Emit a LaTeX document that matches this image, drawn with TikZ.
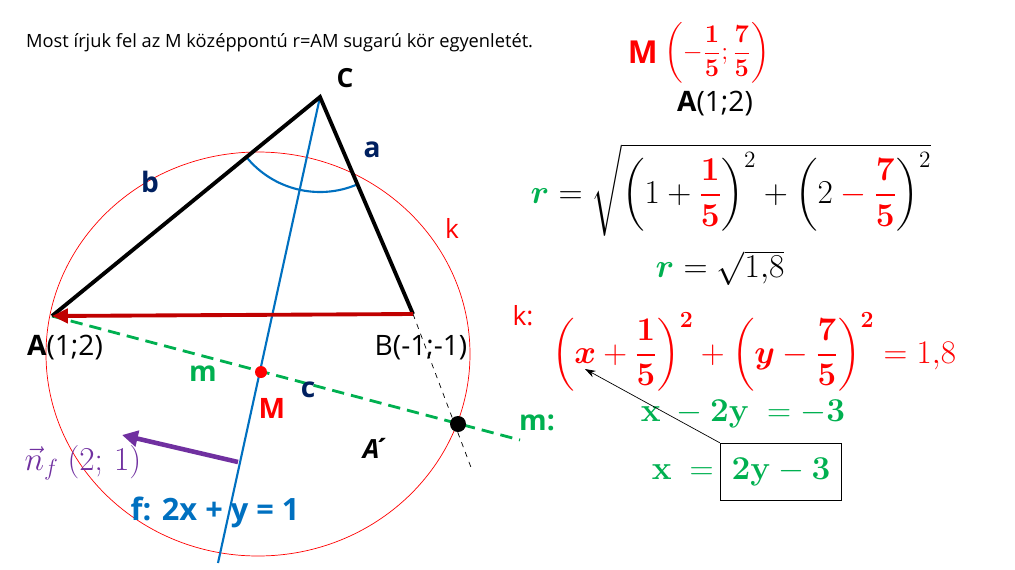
\RequirePackage{fix-cm}
\documentclass[tikz,border=0pt]{standalone}
\usepackage[no-math]{fontspec}
\setmainfont{Open Sans}
\usepackage{amsmath}
\usetikzlibrary{arrows.meta}
\definecolor{kred}{HTML}{FF0000}
\definecolor{arrred}{HTML}{C00000}
\definecolor{fblue}{HTML}{0070C0}
\definecolor{mgreen}{HTML}{00B050}
\definecolor{navy}{HTML}{002060}
\definecolor{nviolet}{HTML}{7030A0}

\begin{document}
\begin{tikzpicture}[x=0.02cm, y=0.02cm,
    sidelabel/.style={font=\fontsize{16}{18}\selectfont\bfseries, text=navy},
    ptlabel/.style={font=\fontsize{16}{19}\selectfont},
    bigmath/.style={font=\fontsize{19}{23}\selectfont}]
    \useasboundingbox (0,0) rectangle (1015,-569);

    % points of the triangle
    \coordinate (A) at (52,-316);
    \coordinate (B) at (413,-314);
    \coordinate (C) at (320,-97);
    \coordinate (M) at (261,-372);
    \coordinate (Ap) at (458,-424);
    \coordinate (fend) at (218,-563);
    \coordinate (mend) at (520,-440);
    \coordinate (Bend) at (472,-470);

    \node[anchor=west, font=\fontsize{10.4}{12}\selectfont] (title) at (20,-43)
        {Most írjuk fel az M középpontú r=AM sugarú kör egyenletét.};

    % circle k
    \draw[kred, thin] (258,-354) ellipse (212 and 202);

    % lines f and m
    \draw[fblue, line width=1.2pt] (C) -- (fend);
    \draw[fblue, line width=1.2pt] (C) ++(219:95) arc (219:293:95);
    \draw[mgreen, line width=1.6pt, dash pattern=on 7pt off 4pt] (A) -- (mend);
    \draw[black, dashed] (B) -- (Bend);

    % triangle
    \draw[black, line width=2.2pt] (A) -- (C) -- (B);
    \draw[arrred, line width=2.2pt, -{Triangle[length=9pt, width=8pt]}] (B) -- (A);

    \fill[kred] (M) circle (6);
    \fill[black] (Ap) circle (8);
    \draw[nviolet, line width=2.6pt, -{Triangle[length=9pt, width=9pt]}] (238,-462) -- (122,-435);

    % labels
    \node[font=\fontsize{15}{18}\selectfont\bfseries] (lC) at (345,-78) {C};
    \node[sidelabel] (la) at (372,-150) {a};
    \node[sidelabel] (lb) at (150,-182) {b};
    \node[sidelabel] (lc) at (308,-390) {c};
    \node[font=\fontsize{15}{18}\selectfont, text=kred] (lk) at (452,-228) {k};
    \node[ptlabel] (lA) at (65,-348) {\textbf{A}(1;2)};
    \node[ptlabel] (lB) at (421,-348) {B(-1;-1)};
    \node[sidelabel, text=mgreen] (lm) at (203,-374) {m};
    \node[sidelabel, text=kred] (lM) at (272,-408) {M};
    \node[font=\fontsize{15}{18}\selectfont\bfseries\itshape] (lAp) at (375,-448) {A\kern-4pt´};
    \node[sidelabel, text=mgreen] (lm2) at (537,-423) {m:};
    \node[font=\fontsize{19}{22}\selectfont, text=nviolet] (ln) at (83,-463) {$\vec{n}_f\ (2;\,1)$};
    \node[font=\fontsize{17.5}{20}\selectfont\bfseries, text=fblue] (lf) at (215,-512) {f: 2x + y = 1};

    % formulas on the right
    \node[font=\fontsize{18}{22}\selectfont\bfseries, text=kred, anchor=east] (Mname) at (664,-52) {M};
    \node[font=\fontsize{14.5}{17}\selectfont, text=kred, anchor=west, inner sep=0pt] (Meq) at (664,-53)
        {$\left(-\dfrac{\mathbf{1}}{\mathbf{5}};\dfrac{\mathbf{7}}{\mathbf{5}}\right)$};
    \node[ptlabel] (Aeq) at (715,-104) {\textbf{A}(1;2)};
    \node[bigmath] (req) at (731,-190)
        {$\boldsymbol{\color{mgreen}r} = \sqrt{\left(1+{\color{kred}\dfrac{\mathbf{1}}{\mathbf{5}}}\right)^{2}+\left(2\mathbin{\color{kred}-}{\color{kred}\dfrac{\mathbf{7}}{\mathbf{5}}}\right)^{2}}$};
    \node[bigmath] (r2) at (720,-268) {$\boldsymbol{\color{mgreen}r} = \sqrt{1{,}8}$};
    \node[font=\fontsize{15}{18}\selectfont, text=kred] (lk2) at (523,-316) {k:};
    \node[font=\fontsize{18.8}{22}\selectfont, text=kred] (keq) at (754,-352)
        {$\left(\boldsymbol{x}+\dfrac{\mathbf{1}}{\mathbf{5}}\right)^{\mathbf{2}}+\left(\boldsymbol{y}-\dfrac{\mathbf{7}}{\mathbf{5}}\right)^{\mathbf{2}} = 1{,}8$};
    \coordinate (xtip) at (585,-369);
    \node[bigmath, text=mgreen] (meq) at (743,-414) {$\mathbf{x\ -2y\ =-3}$};
    \node[draw, thick, minimum width=2.42cm, minimum height=1.14cm, bigmath, text=mgreen] (box) at (781,-472) {$\mathbf{2y-3}$};
    \node[bigmath, text=mgreen, anchor=east] (xeq) at (box.west) {$\mathbf{x\ =}$};
    \draw[-{Stealth[length=6pt, width=4pt]}] (box.north west) -- (xtip);
\end{tikzpicture}
\end{document}
